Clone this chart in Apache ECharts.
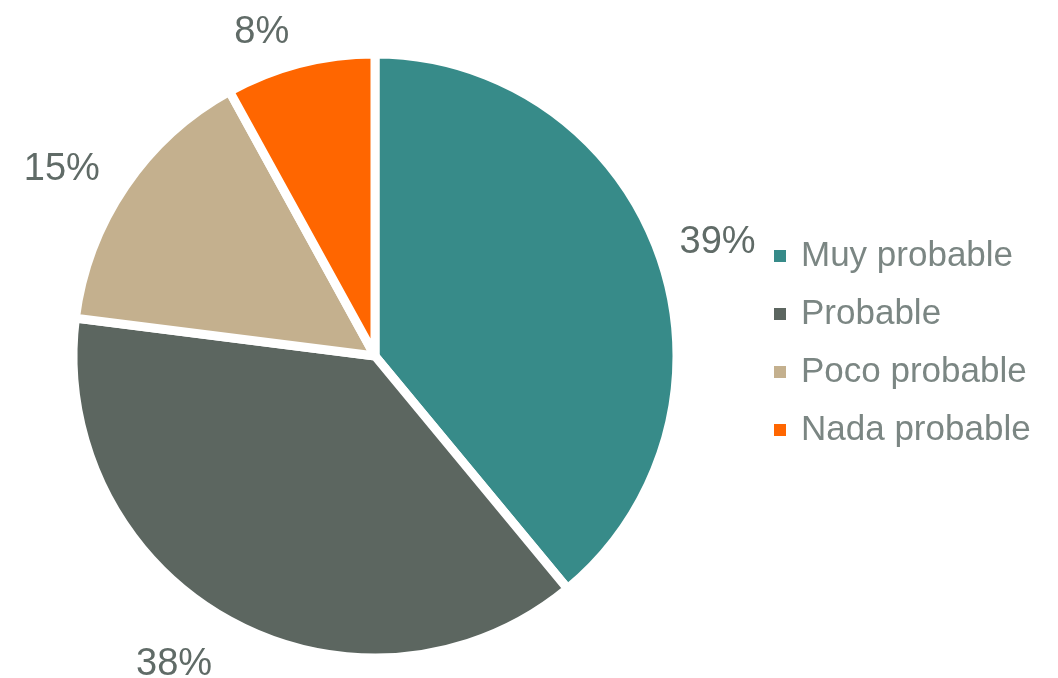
<!DOCTYPE html>
<html>
<head>
<meta charset="utf-8">
<script src="https://cdn.jsdelivr.net/npm/echarts@6/dist/echarts.min.js"></script>
<style>
  html, body { margin: 0; padding: 0; background: #fff; }
  #chart { width: 1058px; height: 678px; }
</style>
</head>
<body>
<div id="chart"></div>
<script>
var categories = ['Muy probable', 'Probable', 'Poco probable', 'Nada probable'];
var values = [39, 38, 15, 8];
var colors = ['#378b89', '#5c6660', '#c4b08e', '#ff6600'];

window.onload = function() {
    // 标签微调（像Excel那样的最佳位置）
    var nudge = [[1, 9], [-26, -10], [-13, 18], [-23, 28]];

    var pieData = categories.map(function(name, i) {
        return { name: name, value: values[i] };
    });
    var labelData = categories.map(function(name, i) {
        return { name: name, value: values[i], label: { offset: nudge[i] } };
    });

    echarts.init(document.getElementById('chart')).setOption({
        animation: false,
        color: colors,
        legend: {
            orient: 'vertical',
            left: 772,
            top: 238,
            padding: 0,
            itemWidth: 14,
            itemHeight: 14,
            itemGap: 22,
            icon: 'rect',
            data: categories,
            textStyle: {
                color: '#7b8683',
                fontSize: 35,
                lineHeight: 36,
                fontFamily: 'Liberation Sans',
                padding: [0, 0, 0, 9]
            }
        },
        series: [{
            type: 'pie',
            center: [375, 356],
            radius: 302,
            startAngle: 90,
            data: pieData,
            itemStyle: {
                borderColor: '#fff',
                borderWidth: 9
            },
            label: { show: false },
            labelLine: { show: false },
            silent: true
        }, {
            // 外圈透明环，只用来放百分比标签
            type: 'pie',
            center: [375, 356],
            radius: [340, 380],
            startAngle: 90,
            data: labelData,
            itemStyle: { color: 'transparent' },
            label: {
                show: true,
                position: 'inside',
                formatter: '{c}%',
                color: '#606b67',
                fontSize: 38,
                fontFamily: 'Liberation Sans'
            },
            labelLine: { show: false },
            silent: true
        }]
    });
};
</script>
</body>
</html>
